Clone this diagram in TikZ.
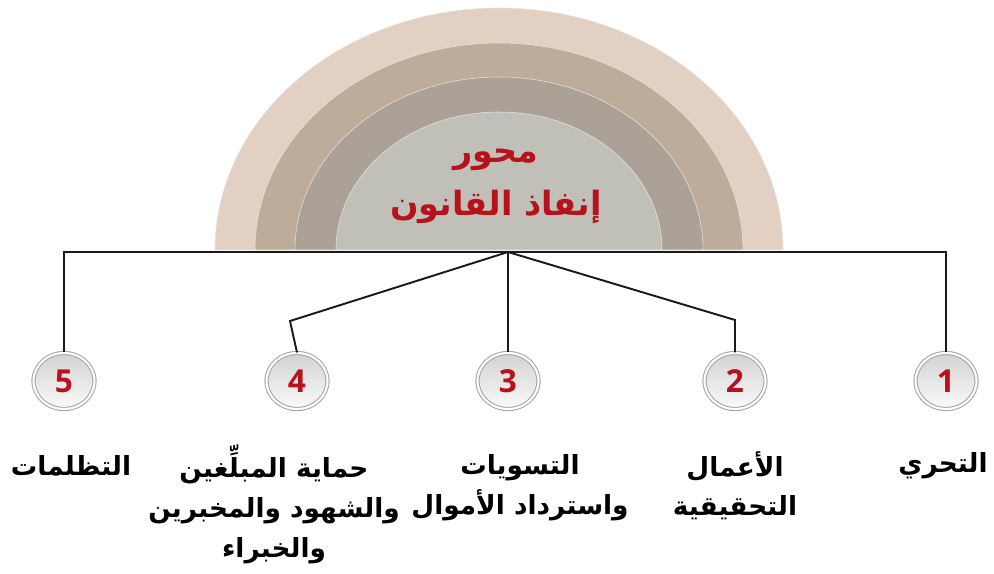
\documentclass[tikz,border=0pt]{standalone}
\usepackage{fontspec}
\usepackage{tikz}
\usetikzlibrary{shapes.geometric}
\TeXXeTstate=1
\newfontfamily\arabicfont[Script=Arabic]{DejaVu Sans}
\newfontfamily\numfont{Open Sans}
\definecolor{ringA}{HTML}{E2D1C3}
\definecolor{ringB}{HTML}{BEAC9B}
\definecolor{ringC}{HTML}{ABA196}
\definecolor{ringD}{HTML}{C1C0B8}
\definecolor{axisred}{HTML}{B5121B}
\definecolor{wire}{HTML}{1A1A1A}
\begin{document}
\begin{tikzpicture}[x=0.02cm,y=0.02cm,
		ring/.style={draw=white!80!gray,line width=0.3pt},
		wirepath/.style={draw=wire,line width=1.1pt},
		numball/.style={ellipse,minimum width=1.22cm,minimum height=1.12cm,inner sep=0pt,
			top color=gray!35,bottom color=gray!4,draw=gray!70,double=white,double distance=1.2pt,line width=0.6pt,
			font=\numfont\bfseries\fontsize{18}{18}\selectfont,text=axisred},
		steplabel/.style={align=center,font=\arabicfont\bfseries\fontsize{15}{22.7}\selectfont}]
	\useasboundingbox (0,0) rectangle (994,-574);
	\fill[ringA,ring] (215,-250) arc[start angle=180,end angle=0,x radius=284,y radius=242] -- cycle;
	\fill[ringB,ring] (255,-250) arc[start angle=180,end angle=0,x radius=244,y radius=207] -- cycle;
	\fill[ringC,ring] (295,-250) arc[start angle=180,end angle=0,x radius=204,y radius=173] -- cycle;
	\fill[ringD,ring] (336,-250) arc[start angle=180,end angle=0,x radius=163,y radius=138] -- cycle;
	\node[align=center,text=axisred,font=\arabicfont\bfseries\fontsize{19}{30}\selectfont] (axis) at (496,-186)
		{\beginR محور\endR\\\beginR إنفاذ القانون\endR};
	\coordinate (hub) at (508,-252);
	\node[numball] (n1) at (946,-381) {1};
	\node[numball] (n2) at (735,-381) {2};
	\node[numball] (n3) at (508,-381) {3};
	\node[numball] (n4) at (297,-381) {4};
	\node[numball] (n5) at (64,-381) {5};
	\coordinate (k2) at (735,-320);
	\coordinate (k4) at (290,-321);
	\draw[wirepath] (n5.north) -- (n5.north |- hub) -- (hub -| n1.north) -- (n1.north);
	\draw[wirepath] (hub) -- (n3.north);
	\draw[wirepath] (hub) -- (k2) -- (n2.north);
	\draw[wirepath] (hub) -- (k4) -- (n4.north);
	\node[steplabel] (l1) at (943,-466) {\beginR التحري\endR};
	\node[steplabel,anchor=north] (l2) at (735,-445) {\beginR الأعمال\endR\\\beginR التحقيقية\endR};
	\node[steplabel,anchor=north] (l3) at (520,-448) {\beginR التسويات\endR\\\beginR واسترداد الأموال\endR};
	\node[steplabel,anchor=north] (l4) at (274,-439) {\beginR حماية المبلِّغين\endR\\\beginR والشهود والمخبرين\endR\\\beginR والخبراء\endR};
	\node[steplabel] (l5) at (71,-466) {\beginR التظلمات\endR};
\end{tikzpicture}
\end{document}
